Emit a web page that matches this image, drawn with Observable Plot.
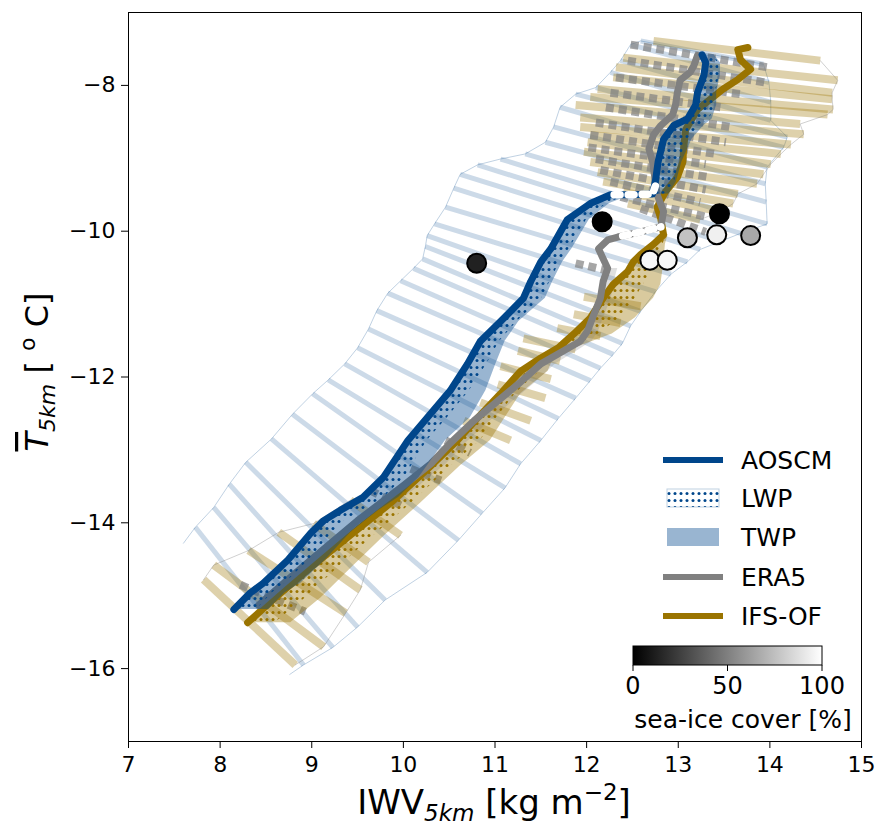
<!DOCTYPE html>
<html><head><meta charset="utf-8">
<script src="https://cdn.jsdelivr.net/npm/d3@7"></script>
<script src="https://cdn.jsdelivr.net/npm/@observablehq/plot@0.6"></script>
<style>body{margin:0;background:#fff}</style>
</head><body><div id="chart"></div>
<script>
// ---- data ----
const aoscm = [[8.15,-15.19],[8.33,-14.96],[8.47,-14.83],[8.74,-14.51],[8.99,-14.14],[9.13,-13.97],[9.31,-13.83],[9.56,-13.65],[9.78,-13.38],[10.05,-12.87],[10.26,-12.56],[10.51,-12.19],[10.70,-11.82],[10.84,-11.51],[11.06,-11.24],[11.31,-10.92],[11.39,-10.69],[11.50,-10.42],[11.61,-10.24],[11.79,-9.84],[12.04,-9.62],[12.26,-9.50],[12.48,-9.50],[12.72,-9.49],[12.75,-9.32],[12.78,-9.05],[12.84,-8.74],[12.95,-8.55],[13.10,-8.46],[13.19,-8.27],[13.21,-8.10],[13.28,-7.86],[13.30,-7.69],[13.26,-7.58]];
const aoscmTwpX2 = [8.53,8.71,8.88,9.15,9.42,9.59,9.73,9.95,10.17,10.46,10.73,10.90,11.01,11.11,11.26,11.55,11.63,11.74,11.84,12.03,12.25,12.50,12.68,12.90,12.98,13.04,13.15,13.28,13.37,13.42,13.42,13.46,13.46,13.39];
const aoscmLwpX2 = [8.40,8.57,8.71,8.97,9.22,9.36,9.55,9.79,10.01,10.26,10.48,10.72,10.91,11.05,11.24,11.51,11.60,11.71,11.81,12.00,12.22,12.46,12.66,12.87,12.96,13.01,13.10,13.23,13.34,13.41,13.41,13.45,13.44,13.39];
const aoscmGap = [[12.30,-9.50],[12.48,-9.50],[12.72,-9.49],[12.75,-9.38]];

const era5 = [[8.42,-15.13],[8.71,-14.81],[8.99,-14.51],[9.50,-13.97],[10.00,-13.49],[10.30,-13.19],[10.51,-12.91],[10.77,-12.60],[11.03,-12.33],[11.25,-12.10],[11.50,-11.82],[11.75,-11.64],[11.93,-11.51],[12.01,-11.37],[12.08,-11.14],[12.15,-10.92],[12.18,-10.69],[12.23,-10.51],[12.17,-10.35],[12.13,-10.24],[12.23,-10.12],[12.34,-10.08],[12.59,-10.01],[12.81,-9.94],[12.84,-9.73],[12.77,-9.50],[12.75,-9.32],[12.72,-9.05],[12.68,-8.87],[12.73,-8.68],[12.81,-8.55],[12.94,-8.40],[12.97,-8.27],[12.99,-8.10],[13.02,-7.93],[13.13,-7.82],[13.17,-7.73],[13.21,-7.59]];
const era5Gap = [[12.34,-10.08],[12.59,-10.01],[12.81,-9.94]];
const era5BandX2 = [9.68,10.18,10.47,10.68,10.95,11.20,11.42,11.66,11.90,12.06,12.13,12.20,12.27,12.30,12.34];

const ifs = [[8.30,-15.37],[8.60,-15.03],[8.99,-14.61],[9.42,-14.17],[9.86,-13.73],[10.30,-13.22],[10.59,-12.87],[10.81,-12.56],[11.06,-12.23],[11.28,-11.92],[11.50,-11.74],[11.69,-11.60],[11.86,-11.41],[12.04,-11.19],[12.18,-10.92],[12.29,-10.73],[12.45,-10.55],[12.51,-10.42],[12.59,-10.32],[12.73,-10.18],[12.84,-10.05],[12.81,-9.83],[12.77,-9.67],[12.86,-9.46],[12.99,-9.26],[13.05,-9.05],[13.06,-8.85],[13.08,-8.61],[13.21,-8.33],[13.35,-8.19],[13.49,-8.05],[13.65,-7.92],[13.79,-7.78],[13.68,-7.65],[13.65,-7.51],[13.76,-7.48]];
const ifsTwpX2 = [8.77,9.10,9.44,9.80,10.19,10.62,10.95,11.11,11.28,11.58,11.64,11.88,12.28,12.53,12.73,12.81,12.83,12.84,12.85,12.86,12.89];
const ifsLwpX2 = [8.60,8.93,9.29,9.68,10.09,10.52,10.84,11.02,11.22,11.49,11.60,11.82,12.13,12.36,12.53,12.62,12.70,12.73,12.76,12.83,12.88];

// AOSCM spread (left and right ends of each hatch line)
const blueL = [[7.73,-14.06],[7.93,-13.79],[8.10,-13.47],[8.28,-13.17],[8.56,-12.85],[8.79,-12.51],[9.01,-12.23],[9.18,-12.04],[9.36,-11.82],[9.50,-11.60],[9.62,-11.34],[9.71,-11.09],[9.83,-10.85],[9.97,-10.68],[10.11,-10.51],[10.21,-10.38],[10.24,-10.21],[10.26,-10.06],[10.34,-9.90],[10.46,-9.67],[10.55,-9.41],[10.62,-9.22],[10.81,-9.09],[11.06,-9.01],[11.33,-8.94],[11.55,-8.78],[11.64,-8.57],[11.71,-8.30],[11.88,-8.12],[12.10,-8.03],[12.26,-7.82],[12.37,-7.66],[12.48,-7.44],[12.59,-7.39]];
const blueR = [[8.91,-15.95],[9.23,-15.71],[9.50,-15.43],[9.80,-15.06],[10.26,-14.68],[10.60,-14.24],[10.86,-13.87],[11.11,-13.52],[11.28,-13.19],[11.50,-12.87],[11.69,-12.57],[11.88,-12.29],[12.04,-12.05],[12.15,-11.88],[12.29,-11.69],[12.39,-11.54],[12.48,-11.30],[12.59,-11.10],[12.75,-10.83],[12.92,-10.59],[13.10,-10.42],[13.24,-10.25],[13.46,-10.14],[13.68,-10.03],[13.97,-9.90],[13.96,-9.60],[13.95,-9.35],[13.97,-9.12],[14.15,-8.85],[14.19,-8.71],[14.01,-8.48],[14.01,-8.23],[13.99,-7.96],[13.93,-7.71]];
const blueTailL = [7.60,-14.28];
const blueTailR = [8.76,-16.08];

// IFS-OF spread
const goldUpL = [[12.73,-7.39],[12.40,-7.62],[12.32,-7.75],[12.29,-7.89],[12.12,-8.05],[12.04,-8.16],[11.88,-8.27],[11.93,-8.44],[11.93,-8.57],[12.04,-8.68],[12.01,-8.78],[11.97,-8.91],[12.04,-9.05],[12.12,-9.19],[12.18,-9.32],[12.40,-9.46],[12.45,-9.62]];
const goldUpR = [[14.55,-7.66],[14.74,-7.93],[14.68,-8.10],[14.68,-8.19],[14.69,-8.33],[14.63,-8.40],[14.33,-8.53],[14.37,-8.67],[14.23,-8.81],[14.12,-8.94],[14.01,-9.08],[13.93,-9.22],[13.86,-9.35],[13.65,-9.49],[13.60,-9.62],[13.46,-9.73],[13.24,-9.84]];
const goldLoL = [[7.82,-14.78],[7.93,-14.58],[8.31,-14.38],[8.64,-14.13],[9.02,-14.01],[9.42,-13.69],[10.66,-12.60],[10.84,-12.35],[11.03,-12.10],[11.06,-11.85],[11.25,-11.64],[11.31,-11.47],[11.68,-11.33],[11.86,-11.14],[11.97,-10.90]];
const goldLoR = [[8.82,-15.95],[9.13,-15.70],[9.37,-15.24],[9.53,-14.92],[9.62,-14.54],[9.97,-14.17],[11.17,-12.87],[11.39,-12.60],[11.55,-12.29],[11.61,-12.03],[11.71,-11.78],[11.88,-11.62],[12.15,-11.44],[12.37,-11.26],[12.59,-11.03]];

// ERA5 spread (dashed)
const era5SpreadL = [[12.48,-7.44],[12.45,-7.66],[12.32,-7.89],[12.26,-8.10],[12.21,-8.30],[12.10,-8.51],[12.04,-8.68],[12.02,-8.85],[12.10,-9.01],[12.15,-9.16],[12.26,-9.32],[12.37,-9.53],[12.59,-9.69],[8.22,-14.85],[9.64,-13.56],[10.08,-13.26],[10.46,-12.87],[11.88,-10.44]];
const era5SpreadR = [[13.97,-7.75],[13.95,-7.96],[13.68,-8.12],[13.46,-8.30],[13.57,-8.57],[13.52,-8.78],[13.41,-8.94],[13.30,-9.08],[13.35,-9.26],[13.30,-9.43],[13.24,-9.60],[13.30,-9.80],[13.30,-10.01],[8.93,-15.22],[9.97,-13.76],[10.41,-13.42],[10.73,-13.04],[12.26,-10.55]];

// observations coloured by sea-ice cover
const obsIWV = [10.80,12.17,13.45,13.10,13.42,13.79,12.69,12.88];
const obsT = [-10.44,-9.87,-9.76,-10.09,-10.05,-10.06,-10.40,-10.40];
const obsIce = [13,0,0,76,94,66,97,97];

const xTicks = [7,8,9,10,11,12,13,14,15];
const yTicks = [-16,-14,-12,-10,-8];
const legendNames = ["AOSCM","LWP","TWP","ERA5","IFS-OF"];
const iceTicks = [0,50,100];

// ---- styles ----
const C_AOSCM = "#00468b", C_ERA = "#808080", C_IFS = "#9a7400";
const FONT = "DejaVu Sans";

const pairs = (L,R) => L.map((l,i)=>({x1:l[0],y1:l[1],x2:R[i][0],y2:R[i][1]}));
const band = (line, x2s) => x2s.map((x2,i)=>({y:line[i][1], x1:line[i][0], x2}));
const pts = a => a.map(d=>({x:d[0],y:d[1]}));
const blueOutline = pts([blueTailL, ...blueL, ...blueR.slice().reverse(), blueTailR]);
const obs = obsIWV.map((x,i)=>({x, y:obsT[i], ice:obsIce[i]}));
const linkOpt = {x1:"x1",y1:"y1",x2:"x2",y2:"y2"};

const plot = Plot.plot({
  width: 877, height: 825,
  marginLeft: 128, marginRight: 16, marginTop: 12, marginBottom: 84,
  x: {domain: [7, 15]},
  y: {domain: [-17, -7]},
  color: {type: "linear", domain: [0, 100], range: ["black", "white"]},
  style: {fontFamily: FONT, background: "white", overflow: "visible"},
  marks: [
    Plot.link(pairs(blueL, blueR), {...linkOpt, stroke: C_AOSCM, strokeOpacity: 0.2, strokeWidth: 5}),
    Plot.line(blueOutline, {x: "x", y: "y", stroke: C_AOSCM, strokeOpacity: 0.25, strokeWidth: 1}),
    Plot.link(pairs(goldUpL, goldUpR), {...linkOpt, stroke: C_IFS, strokeOpacity: 0.33, strokeWidth: 8}),
    Plot.line(pts(goldUpR), {x: "x", y: "y", stroke: "#777", strokeOpacity: 0.35, strokeWidth: 1}),
    Plot.link(pairs(goldLoL, goldLoR), {...linkOpt, stroke: C_IFS, strokeOpacity: 0.33, strokeWidth: 8}),
    Plot.line(pts(goldLoL.slice(0,6)), {x: "x", y: "y", stroke: "#777", strokeOpacity: 0.35, strokeWidth: 1}),
    Plot.line(pts(goldLoR.slice(0,6)), {x: "x", y: "y", stroke: "#777", strokeOpacity: 0.35, strokeWidth: 1}),
    Plot.link(pairs(era5SpreadL, era5SpreadR), {...linkOpt, stroke: C_ERA, strokeOpacity: 0.7, strokeWidth: 8, strokeDasharray: "8,5"}),
    Plot.areaX(band(ifs, ifsTwpX2), {y: "y", x1: "x1", x2: "x2", fill: C_IFS, fillOpacity: 0.38}),
    Plot.areaX(band(era5.slice(3, 18), era5BandX2), {y: "y", x1: "x1", x2: "x2", fill: C_ERA, fillOpacity: 0.25}),
    Plot.areaX(band(ifs, ifsLwpX2), {y: "y", x1: "x1", x2: "x2", fill: "url(#dotsGold)"}),
    Plot.line(pts(ifs), {x: "x", y: "y", stroke: C_IFS, strokeWidth: 7, strokeLinejoin: "round"}),
    Plot.line(pts(era5), {x: "x", y: "y", stroke: C_ERA, strokeWidth: 7, strokeLinejoin: "round"}),
    Plot.line(pts(era5Gap), {x: "x", y: "y", stroke: "white", strokeWidth: 7.5, strokeDasharray: "6,7", strokeDashoffset: -5}),
    Plot.areaX(band(aoscm, aoscmTwpX2), {y: "y", x1: "x1", x2: "x2", fill: C_AOSCM, fillOpacity: 0.4}),
    Plot.areaX(band(aoscm, aoscmLwpX2), {y: "y", x1: "x1", x2: "x2", fill: "url(#dotsBlue)"}),
    Plot.line(pts(aoscm), {x: "x", y: "y", stroke: C_AOSCM, strokeWidth: 7, strokeLinejoin: "round"}),
    Plot.line(pts(aoscmGap), {x: "x", y: "y", stroke: "white", strokeWidth: 7.5, strokeDasharray: "6,8"}),
    Plot.dot(obs, {x: "x", y: "y", r: 9.5, fill: "ice", stroke: "black", strokeWidth: 2}),
    Plot.frame({stroke: "black", strokeWidth: 1}),
    Plot.axisX({ticks: xTicks, tickSize: 7, tickPadding: 8, fontSize: 22, label: null, tickFormat: d => String(d)}),
    Plot.axisY({ticks: yTicks, tickSize: 7, tickPadding: 6, fontSize: 22, label: null, tickFormat: d => (d < 0 ? "\u2212" : "") + Math.abs(d)})
  ]
});
document.getElementById("chart").appendChild(plot);

// ---- patterns, labels, legend ----
const svg = d3.select(plot);
const defs = svg.insert("defs", ":first-child");
function dots(id, col) {
  const p = defs.append("pattern").attr("id", id).attr("patternUnits", "userSpaceOnUse").attr("width", 6).attr("height", 7);
  p.append("circle").attr("cx", 3).attr("cy", 3.5).attr("r", 1.5).attr("fill", col);
}
dots("dotsBlue", C_AOSCM);
dots("dotsGold", C_IFS);
const grad = defs.append("linearGradient").attr("id", "iceGrad");
grad.append("stop").attr("offset", "0%").attr("stop-color", "black");
grad.append("stop").attr("offset", "100%").attr("stop-color", "white");

const g = svg.append("g").attr("font-family", FONT).attr("fill", "black").attr("text-anchor", "start");
// x label
const xl = g.append("text").attr("x", 494).attr("y", 814).attr("text-anchor", "middle").attr("font-size", 34);
xl.append("tspan").text("IWV");
xl.append("tspan").attr("font-size", 23).attr("font-style", "italic").attr("dy", 7).text("5km");
xl.append("tspan").attr("dy", -7).text(" [kg m");
xl.append("tspan").attr("font-size", 23).attr("dy", -14).text("\u22122");
xl.append("tspan").attr("dy", 14).text("]");
// y label
const yl = g.append("text").attr("transform", "translate(48,372) rotate(-90)").attr("text-anchor", "middle").attr("font-size", 32);
yl.append("tspan").attr("font-style", "italic").style("text-decoration", "overline").text("T");
yl.append("tspan").attr("font-size", 22).attr("font-style", "italic").attr("dy", 7).text("5km");
yl.append("tspan").attr("dy", -7).text(" [ ");
yl.append("tspan").attr("font-size", 22).attr("dy", -13).text("o");
yl.append("tspan").attr("dy", 13).text(" C]");

// legend
const lg = g.append("g").attr("font-size", 25).attr("text-anchor", "start");
const rowY = [460, 498, 537, 577, 616];
lg.append("line").attr("x1", 663).attr("x2", 723).attr("y1", rowY[0]).attr("y2", rowY[0]).attr("stroke", C_AOSCM).attr("stroke-width", 6);
lg.append("rect").attr("x", 667).attr("y", 489).attr("width", 52).attr("height", 18).attr("fill", "white").attr("stroke", C_AOSCM).attr("stroke-opacity", 0.25);
lg.append("rect").attr("x", 667).attr("y", 489).attr("width", 52).attr("height", 18).attr("fill", "url(#dotsBlue)");
lg.append("rect").attr("x", 667).attr("y", 528).attr("width", 52).attr("height", 18).attr("fill", C_AOSCM).attr("fill-opacity", 0.4);
lg.append("line").attr("x1", 663).attr("x2", 723).attr("y1", rowY[3]).attr("y2", rowY[3]).attr("stroke", C_ERA).attr("stroke-width", 6);
lg.append("line").attr("x1", 663).attr("x2", 723).attr("y1", rowY[4]).attr("y2", rowY[4]).attr("stroke", C_IFS).attr("stroke-width", 6);
legendNames.forEach((n, i) => lg.append("text").attr("x", 741).attr("y", rowY[i]).attr("dy", "0.36em").text(n));

// colorbar
const cb = g.append("g").attr("font-size", 24);
cb.append("rect").attr("x", 633).attr("y", 646).attr("width", 189).attr("height", 19).attr("fill", "url(#iceGrad)").attr("stroke", "black").attr("stroke-width", 1);
iceTicks.forEach(t => {
  const px = 633 + 189 * t / 100;
  cb.append("line").attr("x1", px).attr("x2", px).attr("y1", 665).attr("y2", 671).attr("stroke", "black");
  cb.append("text").attr("x", px).attr("y", 694).attr("text-anchor", "middle").text(String(t));
});
cb.append("text").attr("x", 743).attr("y", 728).attr("text-anchor", "middle").attr("font-size", 25).text("sea-ice cover [%]");
</script>
</body></html>
